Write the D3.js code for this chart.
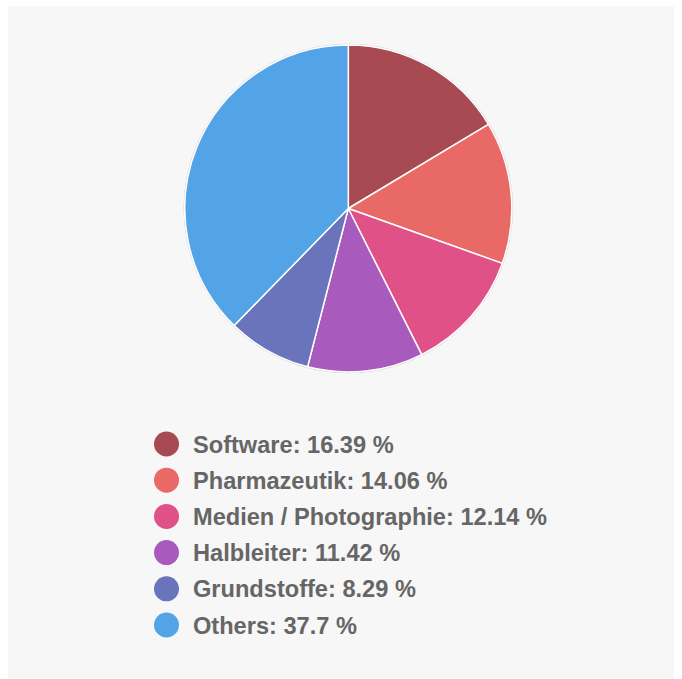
<!DOCTYPE html>
<html><head><meta charset="utf-8">
<script src="https://cdn.jsdelivr.net/npm/d3@7"></script>
<style>html,body{margin:0;padding:0;background:#fff;}svg{display:block;}</style>
</head><body>
<svg id="chart" width="682" height="679"></svg>
<script>
const categories = ["Software", "Pharmazeutik", "Medien / Photographie", "Halbleiter", "Grundstoffe", "Others"];
const values = [16.39, 14.06, 12.14, 11.42, 8.29, 37.7];
const colors = ["#a84a52", "#e86966", "#e05287", "#a95bbd", "#6974bc", "#53a4e7"];

const svg = d3.select("#chart");
svg.append("rect").attr("x", 8).attr("y", 6).attr("width", 666).attr("height", 673).attr("fill", "#f7f7f7");

const data = categories.map((c, i) => ({name: c, value: values[i], color: colors[i]}));
const cx = 348.3, cy = 208.5, r = 163.5;
const pie = d3.pie().value(d => d.value).sort(null);
const arc = d3.arc().innerRadius(0).outerRadius(r);
const g = svg.append("g").attr("transform", `translate(${cx},${cy})`);
g.append("circle").attr("r", r + 0.8).attr("fill", "none").attr("stroke", "#d0d0d0").attr("stroke-width", 1);
g.selectAll("path").data(pie(data)).join("path")
  .attr("d", arc).attr("fill", d => d.data.color)
  .attr("stroke", "#fff").attr("stroke-width", 1.5).attr("stroke-linejoin", "round");

const y = d3.scalePoint().domain(categories).range([444, 625]);
const leg = svg.append("g");
const items = leg.selectAll("g").data(data).join("g").attr("transform", d => `translate(0,${y(d.name)})`);
items.append("circle").attr("cx", 166.5).attr("cy", 0).attr("r", 12.5).attr("fill", d => d.color);
items.append("text").attr("x", 193).attr("y", 0).attr("dy", "0.36em")
  .attr("font-family", "Liberation Sans, Arial, Helvetica, sans-serif")
  .attr("font-weight", "bold").attr("font-size", 23.6).attr("fill", "#666")
  .text(d => `${d.name}: ${d.value} %`);
</script>
</body></html>
